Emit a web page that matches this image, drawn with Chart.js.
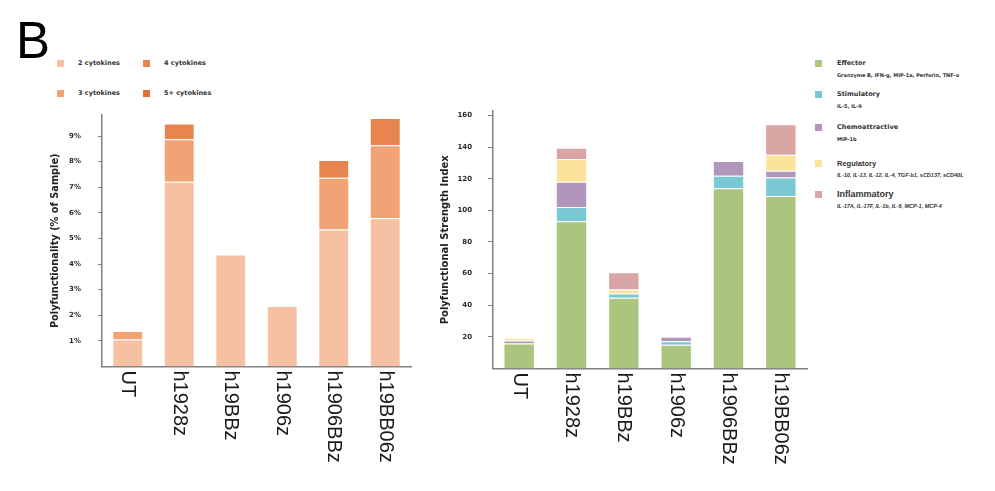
<!DOCTYPE html>
<html>
<head>
<meta charset="utf-8">
<script src="https://cdn.jsdelivr.net/npm/chart.js@4.4.1/dist/chart.umd.min.js"></script>
<style>
  html, body { margin: 0; padding: 0; background: #fff; }
  body { width: 995px; height: 491px; position: relative; overflow: hidden; font-family: "Liberation Sans", Arial, sans-serif; }
  .panel { position: absolute; top: 0; height: 491px; }
  .letter { position: absolute; left: 16px; top: 15px; font-size: 51px; line-height: 52px; color: #000; }
  .leg { position: absolute; height: 12px; display: flex; align-items: center; white-space: nowrap; color: #333; }
  .sq { width: 7px; height: 7px; flex: none; }
  .lt { font-family: "DejaVu Sans", sans-serif; font-weight: bold; font-size: 6.5px; }
  .sub { position: absolute; white-space: nowrap; color: #333; font-family: "DejaVu Sans", sans-serif; font-weight: bold; font-size: 5px; line-height: 8px; }
  .narrow { font-family: "Liberation Sans Narrow", "Liberation Sans", sans-serif; font-weight: bold; }
</style>
</head>
<body>
<div class="letter">B</div>
<div id="legendLeft"></div>
<div id="legendRight"></div>
<div class="panel" style="left:0;width:420px;"><canvas id="polyChart" width="420" height="491"></canvas></div>
<div class="panel" style="left:420px;width:400px;"><canvas id="strengthChart" width="400" height="491"></canvas></div>

<script>
const categories = ['UT', 'h1928z', 'h19BBz', 'h1906z', 'h1906BBz', 'h19BB06z'];

// left panel, % of sample
const cytokines2 = [1.05, 7.21, 4.37, 2.36, 5.35, 5.79];
const cytokines3 = [0.34, 1.66, 0, 0, 2.02, 2.85];
const cytokines4 = [0, 0.62, 0, 0, 0.69, 1.06];
const percentTicks = [1, 2, 3, 4, 5, 6, 7, 8, 9];

// right panel, strength index
const effector = [15.8, 93.1, 44.7, 15.0, 113.9, 109.1];
const stimulatory = [0, 9.0, 2.7, 2.3, 8.0, 11.6];
const chemoattractive = [1.9, 15.9, 0, 2.7, 9.3, 4.4];
const regulatory = [1.7, 14.5, 2.5, 0, 0, 10.1];
const inflammatory = [0, 7.1, 11.0, 0, 0, 19.2];
const strengthTicks = [20, 40, 60, 80, 100, 120, 140, 160];

const AXIS = '#808080';

// x labels read top to bottom, so draw them by hand
const verticalLabels = {
  id: 'verticalLabels',
  afterDraw(chart) {
    const { ctx, chartArea } = chart;
    const xScale = chart.scales.x;
    ctx.save();
    ctx.fillStyle = '#1a1a1a';
    ctx.font = '20px "Liberation Sans", Arial, sans-serif';
    ctx.textAlign = 'left';
    ctx.textBaseline = 'middle';
    categories.forEach((label, i) => {
      const x = xScale.getPixelForValue(i);
      ctx.save();
      ctx.translate(x, chartArea.bottom + 4);
      ctx.rotate(Math.PI / 2);
      ctx.fillText(label, 0, 0);
      ctx.restore();
    });
    ctx.restore();
  }
};

function noZero(arr) {
  return arr.map(v => (v === 0 ? null : v));
}

function barSet(label, data, color) {
  return {
    label: label,
    data: noZero(data),
    backgroundColor: color,
    borderColor: 'rgba(255,255,255,0.3)',
    borderWidth: 1,
    barPercentage: 0.6,
    categoryPercentage: 1
  };
}

function makeOptions(cfg) {
  return {
    responsive: false,
    animation: false,
    layout: { padding: { left: cfg.padLeft, right: cfg.padRight, top: cfg.top, bottom: 491 - cfg.bottom } },
    plugins: { legend: { display: false }, tooltip: { enabled: false } },
    scales: {
      x: {
        stacked: true,
        ticks: { display: false },
        grid: { display: false },
        border: { display: true, color: AXIS, width: 1.5 },
        afterFit(scale) { scale.height = 0; }
      },
      y: {
        stacked: true,
        min: 0,
        max: cfg.max,
        afterBuildTicks(scale) { scale.ticks = cfg.ticks.map(v => ({ value: v })); },
        afterFit(scale) { scale.width = cfg.axisWidth; },
        ticks: {
          padding: cfg.tickPad,
          color: '#2a2a2a',
          font: { family: 'DejaVu Sans', weight: 'bold', size: 7 },
          callback: cfg.format
        },
        grid: { display: true, drawOnChartArea: false, drawTicks: true, tickLength: cfg.tickLength, color: AXIS, lineWidth: 1 },
        border: { display: true, color: AXIS, width: 1.5 },
        title: {
          display: true,
          text: cfg.title,
          color: '#222',
          padding: 0,
          font: { family: 'DejaVu Sans', weight: 'bold', size: cfg.titleSize }
        }
      }
    }
  };
}

new Chart(document.getElementById('polyChart'), {
  type: 'bar',
  data: {
    labels: categories,
    datasets: [
      barSet('2 cytokines', cytokines2, '#f5c1a2'),
      barSet('3 cytokines', cytokines3, '#f0a475'),
      barSet('4 cytokines', cytokines4, '#e8854f')
    ]
  },
  options: makeOptions({
    padLeft: 50, axisWidth: 52, padRight: 9, top: 115, bottom: 366.5,
    max: 9.82, ticks: percentTicks, tickLength: 4, tickPad: 17,
    format: v => v + '%',
    title: 'Polyfunctionality (% of Sample)', titleSize: 9.8
  }),
  plugins: [verticalLabels]
});

new Chart(document.getElementById('strengthChart'), {
  type: 'bar',
  data: {
    labels: categories,
    datasets: [
      barSet('Effector', effector, '#abc57e'),
      barSet('Stimulatory', stimulatory, '#7bc8d5'),
      barSet('Chemoattractive', chemoattractive, '#b096bb'),
      barSet('Regulatory', regulatory, '#fbe39a'),
      barSet('Inflammatory', inflammatory, '#d9a4a4')
    ]
  },
  options: makeOptions({
    padLeft: 19, axisWidth: 54, padRight: 13, top: 111, bottom: 368.5,
    max: 162.8, ticks: strengthTicks, tickLength: 5, tickPad: 16,
    format: v => v,
    title: 'Polyfunctional Strength Index', titleSize: 10
  }),
  plugins: [verticalLabels]
});

// legends
const leftLegend = [
  { text: '2 cytokines', color: '#f5c1a2', x: 57, y: 63 },
  { text: '4 cytokines', color: '#e8854f', x: 143, y: 63 },
  { text: '3 cytokines', color: '#f0a475', x: 57, y: 93 },
  { text: '5+ cytokines', color: '#e06f38', x: 143, y: 93 }
];

document.getElementById('legendLeft').innerHTML = leftLegend.map(item => `
  <div class="leg" style="left:${item.x}px;top:${item.y - 6}px;">
    <span class="sq" style="background:${item.color}"></span>
    <span class="lt" style="margin-left:14px">${item.text}</span>
  </div>
`).join('');

const rightLegend = [
  { text: 'Effector', sub: 'Granzyme B, IFN-g, MIP-1a, Perforin, TNF-a', color: '#abc57e', y: 63 },
  { text: 'Stimulatory', sub: 'IL-5, IL-9', color: '#7bc8d5', y: 94 },
  { text: 'Chemoattractive', sub: 'MIP-1b', color: '#b096bb', y: 127 },
  { text: 'Regulatory', sub: 'IL-10, IL-13, IL-12, IL-4, TGF-b1, sCD137, sCD40L', color: '#fbe39a', y: 163, narrow: true, size: 7.5 },
  { text: 'Inflammatory', sub: 'IL-17A, IL-17F, IL-1b, IL-6, MCP-1, MCP-4', color: '#d9a4a4', y: 194, narrow: true, size: 9 }
];

document.getElementById('legendRight').innerHTML = rightLegend.map(item => `
  <div class="leg" style="left:815px;top:${item.y - 6}px;">
    <span class="sq" style="background:${item.color}"></span>
    <span class="${item.narrow ? 'narrow' : 'lt'}" style="margin-left:15px;${item.size ? 'font-size:' + item.size + 'px' : ''}">${item.text}</span>
  </div>
  <div class="sub${item.narrow ? ' narrow' : ''}" style="left:837px;top:${item.y + 8}px;${item.narrow ? 'font-style:italic;font-size:5.5px' : ''}">${item.sub}</div>
`).join('');
</script>
</body>
</html>
